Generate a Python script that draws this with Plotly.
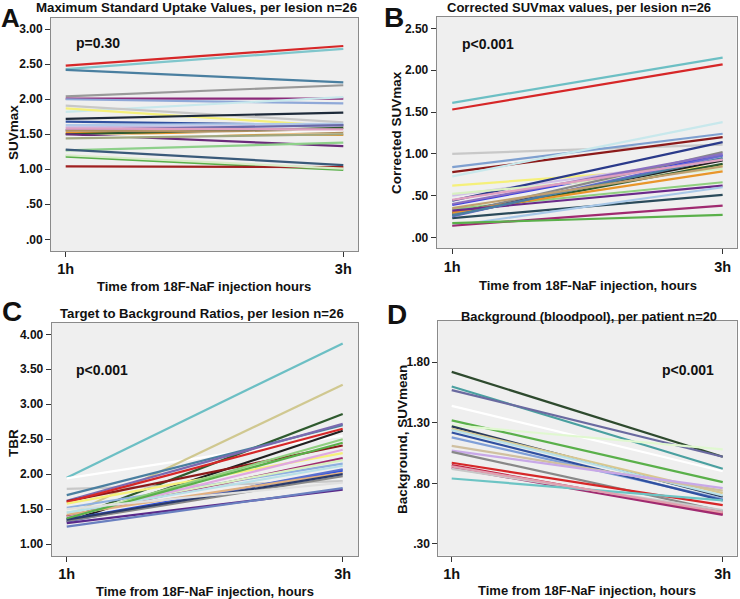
import plotly.graph_objects as go

# ---------------- data ----------------
time_labels = ["1h", "3h"]
time_x = [1, 3]

# Panel A: SUVmax per lesion
A_1h = [2.48, 2.43, 2.42, 2.04, 2.01, 2.00, 1.82, 1.91, 1.87, 1.72, 1.68, 1.63, 1.60,
        1.56, 1.52, 1.50, 1.55, 1.50, 1.45, 1.44, 1.27, 1.28, 1.18, 1.04, 1.20, 1.58]
A_3h = [2.76, 2.72, 2.24, 2.20, 2.01, 1.94, 2.03, 1.67, 1.61, 1.81, 1.63, 1.65, 1.62,
        1.63, 1.49, 1.59, 1.53, 1.33, 1.55, 1.50, 1.38, 1.06, 0.99, 1.03, 1.01, 1.57]
A_colors = ["#d62728", "#7fc6cc", "#4a7fa0", "#999999", "#8b2a7a", "#8fa8d8", "#c8e8ec",
            "#c8c8c8", "#f5f07a", "#1e2a3a", "#3050a0", "#b0c8e8", "#c8b8e0", "#6a6aa8",
            "#e8962a", "#2e5a2e", "#b09060", "#6a2a7a", "#f8f8f8", "#a0a880", "#8ed08a",
            "#3a5a7a", "#5ab04a", "#a02020", "#d8ecc8", "#e0a0c0"]
A_ticks = [0, 0.5, 1.0, 1.5, 2.0, 2.5, 3.0]
A_ticktext = [".00", ".50", "1.00", "1.50", "2.00", "2.50", "3.00"]

# Panel B: corrected SUVmax per lesion
B_1h = [1.61, 1.53, 1.00, 0.84, 0.78, 0.73, 0.62, 0.50, 0.44, 0.39, 0.52, 0.34, 0.29,
        0.27, 0.28, 0.30, 0.32, 0.23, 0.14, 0.14, 0.17, 0.25, 0.40, 0.26, 0.35, 0.45]
B_3h = [2.15, 2.07, 1.11, 1.24, 1.20, 1.38, 0.86, 0.95, 1.14, 0.98, 0.82, 0.66, 0.92,
        0.88, 1.02, 0.79, 0.62, 0.51, 0.60, 0.38, 0.27, 0.98, 1.00, 0.95, 0.85, 0.93]
B_colors = ["#6cbfc4", "#d62728", "#c8c8c8", "#7fa0d0", "#8b1a1a", "#c8e8ec", "#f5f07a",
            "#d0c0e8", "#2a3a8a", "#4040e0", "#d8f0c0", "#90d080", "#202020", "#2e5a2e",
            "#888888", "#e8962a", "#6a2a8a", "#2a4a5a", "#a8c8e8", "#a02a70", "#5ab04a",
            "#6a6ad0", "#8a70c0", "#4a7fa0", "#c0a070", "#e0a0c0"]
B_ticks = [0, 0.5, 1.0, 1.5, 2.0, 2.5]
B_ticktext = [".00", ".50", "1.00", "1.50", "2.00", "2.50"]

# Panel C: target to background ratio per lesion
C_1h = [1.95, 1.94, 1.40, 1.35, 1.79, 1.70, 1.62, 1.32, 1.61, 1.60, 1.58, 1.52, 1.38,
        1.40, 1.45, 1.38, 1.35, 1.32, 1.33, 1.42, 1.30, 1.25, 1.45, 1.35, 1.37, 1.50]
C_3h = [3.87, 2.55, 3.28, 2.86, 1.90, 2.70, 2.72, 2.62, 2.41, 2.65, 2.30, 2.15, 2.50,
        2.23, 2.20, 2.35, 2.05, 2.07, 1.97, 2.02, 1.78, 1.80, 2.12, 2.00, 2.45, 1.88]
C_colors = ["#6cbfc4", "#ffffff", "#d0c890", "#2e5a2e", "#c8c8c8", "#4a7fa0", "#7a6ab0",
            "#202020", "#8b1a1a", "#d62728", "#f5f07a", "#8fb0e0", "#90d080", "#a02a70",
            "#d8f0c0", "#e0a8e0", "#3050e0", "#5a70d0", "#888888", "#e0b080", "#5a2a8a",
            "#6a80c0", "#b8e0e8", "#2a3a6a", "#5ab04a", "#e0e0e0"]
C_ticks = [1.0, 1.5, 2.0, 2.5, 3.0, 3.5, 4.0]
C_ticktext = ["1.00", "1.50", "2.00", "2.50", "3.00", "3.50", "4.00"]

# Panel D: background (bloodpool) per patient
D_1h = [1.72, 1.60, 1.57, 1.44, 1.32, 1.28, 1.27, 1.25, 1.24, 1.18, 1.22, 1.11, 1.07,
        1.06, 0.97, 0.95, 0.93, 0.92, 0.84, 0.94]
D_3h = [1.02, 0.92, 1.02, 0.90, 0.81, 1.08, 0.69, 0.72, 0.70, 0.67, 0.66, 0.74, 0.76,
        0.57, 0.62, 0.55, 0.54, 0.58, 0.66, 0.56]
D_colors = ["#2e4a2e", "#4aa0a0", "#6a6aa0", "#ffffff", "#5ab04a", "#e0f8d0", "#2a3a5a",
            "#d8c890", "#b8e0e8", "#7f9fd8", "#3050a0", "#d0c0a0", "#c8a8e8", "#888888",
            "#d62728", "#c02040", "#a02a70", "#c8c8c8", "#6cc4c4", "#e0a0b0"]
D_ticks = [0.3, 0.8, 1.3, 1.8]
D_ticktext = [".30", ".80", "1.30", "1.80"]

# ---------------- figure ----------------
W, H = 740, 599
FONT = "Liberation Sans, Arial, sans-serif"

def px(xp):
    return xp / W

def py(yp):
    return 1 - yp / H

panels = [
    ("", A_1h, A_3h, A_colors, A_ticks, A_ticktext, (51, 358), (18, 251), [0.894, 3.106], [-0.167, 3.16]),
    ("2", B_1h, B_3h, B_colors, B_ticks, B_ticktext, (436.7, 736.7), (16.7, 248.3), [0.885, 3.104], [-0.13, 2.64]),
    ("3", C_1h, C_3h, C_colors, C_ticks, C_ticktext, (51.7, 358.3), (322.7, 556), [0.891, 3.113], [0.83, 4.166]),
    ("4", D_1h, D_3h, D_colors, D_ticks, D_ticktext, (438.3, 736.7), (321, 555.7), [0.901, 3.103], [0.203, 2.14]),
]

fig = go.Figure()
layout = dict(
    width=W, height=H, margin=dict(l=0, r=0, t=0, b=0),
    paper_bgcolor="white", plot_bgcolor="#efefef", showlegend=False,
    font=dict(family=FONT, color="#111111"),
)

for key, y1, y3, cols, tv, tt, xd, yd, xr, yr in panels:
    for a, b, c in zip(y1, y3, cols):
        fig.add_trace(go.Scatter(
            x=time_x, y=[a, b], mode="lines",
            line=dict(color=c, width=2.2),
            xaxis="x" + key, yaxis="y" + key, hoverinfo="skip",
        ))
    layout["xaxis" + key] = dict(
        domain=[px(xd[0]), px(xd[1])], range=xr, anchor="y" + key,
        tickvals=time_x, ticktext=["<b>%s</b>" % t for t in time_labels],
        tickfont=dict(size=14.5, family=FONT, color="#111111"),
        ticks="outside", ticklen=5, tickcolor="#333333",
        showline=True, mirror=True, linecolor="#8a8a8a", linewidth=1,
        showgrid=False, zeroline=False,
    )
    layout["yaxis" + key] = dict(
        domain=[py(yd[1]), py(yd[0])], range=yr, anchor="x" + key,
        tickvals=tv, ticktext=["<b>%s</b>" % t for t in tt],
        tickfont=dict(size=12, family=FONT, color="#111111"),
        ticks="outside", ticklen=5, tickcolor="#333333",
        showline=True, mirror=True, linecolor="#8a8a8a", linewidth=1,
        showgrid=False, zeroline=False,
    )

fig.update_layout(**layout)

def txt(text, x, y, size, angle=0, xanchor="center"):
    fig.add_annotation(
        text="<b>%s</b>" % text, x=px(x), y=py(y), xref="paper", yref="paper",
        showarrow=False, xanchor=xanchor, yanchor="middle", textangle=angle,
        font=dict(size=size, family=FONT, color="#111111"),
    )

# titles
txt("Maximum Standard Uptake Values, per lesion n=26", 196, 8, 13.3)
txt("Corrected SUVmax values, per lesion n=26", 579, 8, 13)
txt("Target to Background Ratios, per lesion n=26", 202, 313, 13.2)
txt("Background (bloodpool), per patient n=20", 589, 316, 12.9)

# panel letters
txt("A", 10.5, 18, 26)
txt("B", 394, 17, 28)
txt("C", 12, 311, 28)
txt("D", 397, 314, 28)

# p values
txt("p=0.30", 98, 43, 14)
txt("p<0.001", 488, 44, 14)
txt("p<0.001", 102, 370, 14)
txt("p<0.001", 688, 370, 14)

# x-axis titles
txt("Time from 18F-NaF injection hours", 204, 286, 13)
txt("Time from 18F-NaF injection, hours", 588, 285, 13)
txt("Time from 18F-NaF injection, hours", 205, 591, 13)
txt("Time from 18F-NaF injection, hours", 587, 590, 13)

# y-axis titles
txt("SUVmax", 13, 133, 13.5, angle=-90)
txt("Corrected SUVmax", 396, 133, 13.5, angle=-90)
txt("TBR", 13, 443, 13.5, angle=-90)
txt("Background, SUVmean", 403, 440, 13.5, angle=-90)

fig.write_html("out.html", config={"displayModeBar": False},
               post_script="document.body.style.margin='0';")
